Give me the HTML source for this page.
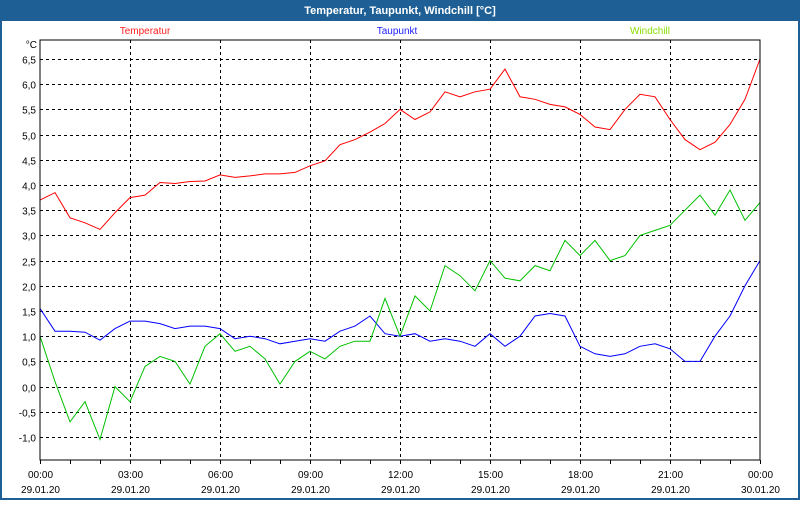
<!DOCTYPE html>
<html><head><meta charset="utf-8"><style>
body{margin:0;width:800px;height:500px;overflow:hidden;background:#fff;font-family:"Liberation Sans",sans-serif}
</style></head><body>
<svg width="800" height="500" xmlns="http://www.w3.org/2000/svg" id="chart">
<rect x="0" y="0" width="800" height="500" fill="#1e6096"/>
<rect x="2" y="21" width="796" height="477" fill="#fff"/>
<text x="400" y="14" text-anchor="middle" fill="#fff" font-size="11" font-weight="bold">Temperatur, Taupunkt, Windchill [°C]</text>
<text x="145" y="34" text-anchor="middle" fill="#ff2020" font-size="10">Temperatur</text>
<text x="397" y="34" text-anchor="middle" fill="#2020ff" font-size="10">Taupunkt</text>
<text x="650" y="34" text-anchor="middle" fill="#88dd00" font-size="10">Windchill</text>
<text x="37" y="48" text-anchor="end" font-size="10" fill="#000">°C</text>
<g id="grid"></g>
<g id="series"></g>
<rect x="40" y="40" width="720" height="420" fill="none" stroke="#000" stroke-width="1"/>
<g id="axes"></g>
</svg>
<script>
const yTicks = [6.5,6.0,5.5,5.0,4.5,4.0,3.5,3.0,2.5,2.0,1.5,1.0,0.5,0.0,-0.5,-1.0];
const xTickHours = [0,3,6,9,12,15,18,21,24];
const xTickTimes = ["00:00","03:00","06:00","09:00","12:00","15:00","18:00","21:00","00:00"];
const xTickDates = ["29.01.20","29.01.20","29.01.20","29.01.20","29.01.20","29.01.20","29.01.20","29.01.20","30.01.20"];
const temperatur = [3.7,3.85,3.35,3.25,3.12,3.45,3.75,3.8,4.05,4.03,4.07,4.08,4.2,4.15,4.18,4.22,4.22,4.25,4.38,4.48,4.8,4.9,5.05,5.22,5.5,5.3,5.45,5.85,5.75,5.85,5.9,6.3,5.75,5.7,5.6,5.55,5.4,5.15,5.1,5.5,5.8,5.75,5.3,4.9,4.7,4.85,5.2,5.7,6.5];
const taupunkt = [1.55,1.1,1.1,1.08,0.92,1.15,1.3,1.3,1.25,1.15,1.2,1.2,1.15,0.95,1.0,0.95,0.85,0.9,0.95,0.9,1.1,1.2,1.4,1.05,1.0,1.05,0.9,0.95,0.9,0.8,1.05,0.8,1.0,1.4,1.45,1.4,0.8,0.65,0.6,0.65,0.8,0.85,0.75,0.5,0.5,1.0,1.4,2.0,2.5];
const windchill = [1.0,0.1,-0.7,-0.3,-1.05,0.0,-0.3,0.4,0.6,0.5,0.05,0.8,1.05,0.7,0.8,0.55,0.05,0.5,0.7,0.55,0.8,0.9,0.9,1.75,1.0,1.8,1.5,2.4,2.2,1.9,2.5,2.15,2.1,2.4,2.3,2.9,2.6,2.9,2.5,2.6,3.0,3.1,3.2,3.5,3.8,3.4,3.9,3.3,3.65];
const stepHours = 0.5;

const NS="http://www.w3.org/2000/svg";
function xS(h){return 40+h*30;}
function yS(v){return 386.6-v*50.4;}
function mk(tag,attrs,parent){const e=document.createElementNS(NS,tag);for(const k in attrs)e.setAttribute(k,attrs[k]);parent.appendChild(e);return e;}
const grid=document.getElementById('grid'), axes=document.getElementById('axes'), series=document.getElementById('series');
yTicks.forEach(v=>{
  const y=Math.round(yS(v))+0.5;
  const l=mk('line',{x1:40,x2:760,y1:y,y2:y,stroke:'#000','stroke-dasharray':'3,3','stroke-width':1},grid);
  
  
  const t=mk('text',{x:36,y:y+4,'text-anchor':'end','font-size':10,fill:'#000'},axes);
  t.textContent=v.toFixed(1).replace('.',',');
  
  
});
xTickHours.forEach((h,i)=>{
  const x=Math.round(xS(h))+0.5;
  if(i>0&&i<xTickHours.length-1){
    const l=mk('line',{x1:x,x2:x,y1:40,y2:460,stroke:'#000','stroke-dasharray':'3,3','stroke-width':1},grid);
    
    
  }
  const t1=mk('text',{x:x,y:478,'text-anchor':'middle','font-size':10,fill:'#000'},axes);
  t1.textContent=xTickTimes[i];
  
  
  const t2=mk('text',{x:x,y:493,'text-anchor':'middle','font-size':10,fill:'#000'},axes);
  t2.textContent=xTickDates[i];
  
  
});
for(let h=0;h<=24;h+=1){
  const x=Math.round(xS(h))+0.5;
  const l=mk('line',{x1:x,x2:x,y1:460,y2:464,stroke:'#000'},axes);
  
  
}
function drawLine(arr,color,name){
  const pts=arr.map((v,i)=>xS(i*stepHours).toFixed(1)+','+yS(v).toFixed(1)).join(' ');
  const p=mk('polyline',{points:pts,fill:'none',stroke:color,'stroke-width':1},series);
  
  
}
drawLine(temperatur,'#ff0000','temperatur-line');
drawLine(taupunkt,'#0000ff','taupunkt-line');
drawLine(windchill,'#00c000','windchill-line');
</script>
</body></html>
